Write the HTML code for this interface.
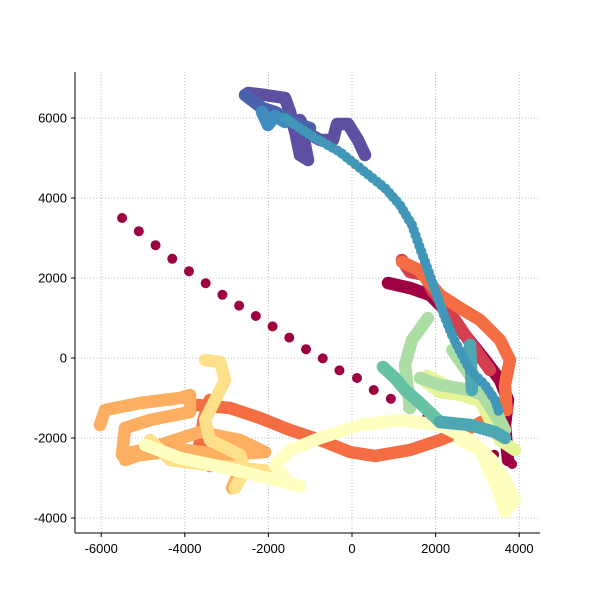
<!DOCTYPE html>
<html><head><meta charset="utf-8"><style>
body{margin:0;background:#fff}
svg text{font-family:"Liberation Sans",sans-serif;font-size:13px;fill:#000}
</style></head><body>
<svg id="chart" width="600" height="600">
<g id="grid"></g>
<g id="series"></g>
<g id="axes"></g>
</svg>
<script>
const xTicks=[-6000,-4000,-2000,0,2000,4000];
const yTicks=[-4000,-2000,0,2000,4000,6000];
const dotsX=[-5500,-5100,-4700,-4300,-3900,-3500,-3100,-2700,-2300,-1900,-1500,-1100,-700,-300,120,520,930,1350,1790,2220,2600,3000,3400,3830];
const dotsY=[3500,3170,2820,2480,2170,1870,1580,1310,1050,790,510,220,-10,-310,-500,-800,-1020,-1250,-1500,-1750,-1950,-2200,-2420,-2650];
const lineNames=["purple","blue","blue2","dark-red","red","orange-red-upper","orange-red-lower","orange-red-left","orange","orange2","yellow","yellow2","light-yellow","light-yellow2","lime","lime2","light-green","light-green2","green-teal","teal-blue","teal-blue2"];
const lineColors=["#5e4fa2","#4a62ab","#3f8dbf","#9e0142","#d53e4f","#f46d43","#f46d43","#f46d43","#fdae61","#fdae61","#fee08b","#fee08b","#ffffbf","#ffffbf","#e6f598","#e6f598","#abdda4","#abdda4","#66c2a5","#4ea8b3","#4ea8b3"];
const lineData=[
[[311,5075],[144,5450],[-96,5850],[-359,5850],[-454,5450],[-765,5450],[-1100,5650],[-1244,5950],[-1124,5325],[-1052,4950],[-1244,5075],[-1340,5575],[-1483,6150],[-1603,6500],[-2081,6575],[-2488,6625]],
[[-2560,6575],[-2153,6250],[-1842,6150],[-1483,5950],[-1244,5825],[-1005,5750]],
[[-2153,6150],[-2010,5825],[-1842,6050],[-1603,5900]],
[[861,1875],[1387,1750],[1866,1575],[2225,1200],[2703,575],[3182,-50],[3540,-550],[3731,-1050],[3660,-1675],[3731,-2550]],
[[1196,2450],[1387,2150],[1746,2075],[1914,1700],[2105,1450],[2464,950],[2870,325],[3301,-300]],
[[1200,2400],[1600,2200],[2105,1575],[2583,1250],[3062,950],[3540,450],[3779,-50],[3660,-675],[3700,-1300]],
[[-3708,-1175],[-2918,-1250],[-2201,-1500],[-1483,-1800],[-765,-2050],[-48,-2350],[550,-2450],[1387,-2300],[2105,-2050],[2823,-1750],[3421,-1425]],
[[-3400,-1050],[-3550,-1550],[-3650,-2150],[-3400,-2700]],
[[-6028,-1675],[-5908,-1300],[-5071,-1125],[-4114,-1000],[-3875,-925],[-3875,-1350],[-4832,-1550],[-5430,-1750],[-5502,-2425],[-4593,-2175],[-3636,-1850],[-2679,-2050],[-2081,-2350],[-3038,-2425],[-3995,-2300],[-5071,-2425],[-5430,-2550]],
[[-2679,-2300],[-2679,-2800],[-2870,-3250]],
[[-3516,-50],[-3158,-100],[-3038,-550],[-3277,-1050],[-3516,-1550],[-3397,-2050],[-2679,-2425],[-2560,-2800],[-2799,-3250]],
[[-4832,-2050],[-4354,-2550],[-3397,-2675],[-2201,-2800],[-1722,-2850]],
[[-1603,-3000],[-1842,-2675],[-1483,-2300],[-765,-2000],[191,-1675],[1148,-1550],[2105,-1675],[2823,-2050],[3349,-2550],[3660,-3050],[3899,-3550],[3660,-3850],[3493,-3300],[3062,-2300],[2583,-2050]],
[[-4951,-2175],[-4114,-2500],[-2799,-2800],[-1722,-3075],[-1244,-3200]],
[[1627,-500],[2105,-850],[2583,-925],[3062,-1050],[3540,-2050],[3899,-2300]],
[[1800,-450],[2300,-700],[2800,-1000],[3300,-1100]],
[[1818,1000],[1435,450],[1268,-175],[1340,-800],[1387,-1250]],
[[1627,-500],[2105,-675],[2823,-800],[3301,-1000],[3540,-1550],[3660,-1800],[2800,-400],[2400,200]],
[[741,-225],[1028,-500],[1268,-800],[1600,-1100],[2105,-1600]],
[[2105,-1600],[2823,-1675],[3421,-1850],[3660,-2000]],
[[2823,325],[2870,-800]]
];
const tealDotsX=[-1603,-1005,-287,311,789,1148,1435,1627,1818,1985,2153,2392,2631,2823,3182,3421,3540];
const tealDotsY=[6000,5575,5150,4650,4250,3825,3325,2750,2200,1700,1200,575,75,-300,-675,-1050,-1425];

const NS="http://www.w3.org/2000/svg";
const X=v=>352+v*0.0418, Y=v=>358-v*0.04;
function mk(t,a,p){const e=document.createElementNS(NS,t);for(const k in a)e.setAttribute(k,a[k]);p.appendChild(e);return e;}
const grid=document.getElementById('grid'),ser=document.getElementById('series'),ax=document.getElementById('axes');
xTicks.forEach(t=>{const l=mk('line',{x1:X(t),x2:X(t),y1:72,y2:533,stroke:'#b0b0b0','stroke-width':0.8,'stroke-dasharray':'1,2'},grid);

const k=mk('line',{x1:X(t),x2:X(t),y1:533,y2:537,stroke:'#000'},ax);
const tx=mk('text',{x:X(t),y:553,'text-anchor':'middle'},ax);tx.textContent=t;});
yTicks.forEach(t=>{const l=mk('line',{x1:75,x2:540,y1:Y(t),y2:Y(t),stroke:'#b0b0b0','stroke-width':0.8,'stroke-dasharray':'1,2'},grid);

const k=mk('line',{x1:71,x2:75,y1:Y(t),y2:Y(t),stroke:'#000'},ax);
const tx=mk('text',{x:67,y:Y(t)+4.5,'text-anchor':'end'},ax);tx.textContent=t;});
const sl=mk('line',{x1:75,x2:75,y1:72,y2:533,stroke:'#000'},ax);
const sb=mk('line',{x1:75,x2:540,y1:533,y2:533,stroke:'#000'},ax);

dotsX.forEach((v,i)=>{const c=mk('circle',{cx:X(v),cy:Y(dotsY[i]),r:5,fill:'#9e0142'},ser);});
lineData.forEach((pts,i)=>{const p=mk('polyline',{points:pts.map(q=>X(q[0])+','+Y(q[1])).join(' '),fill:'none',stroke:lineColors[i],'stroke-width':12.5,'stroke-linecap':'round','stroke-linejoin':'round'},ser);
});
const tp=mk('polyline',{points:tealDotsX.map((v,i)=>X(v)+','+Y(tealDotsY[i])).join(' '),fill:'none',stroke:'#4197b7','stroke-width':10,'stroke-linecap':'round','stroke-dasharray':'0.1,5.5'},ser);

</script>
</body></html>
